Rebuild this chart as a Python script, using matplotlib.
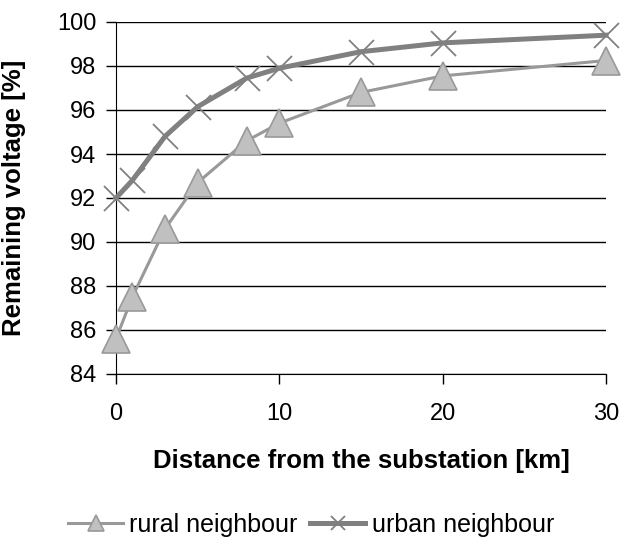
import matplotlib
matplotlib.use("Agg")
from matplotlib import pyplot as plt

plt.rcParams['font.family'] = ['Liberation Sans', 'DejaVu Sans']

# distance from substation [km]
distance = [0, 1, 3, 5, 8, 10, 15, 20, 30]
rural = [85.6, 87.5, 90.6, 92.7, 94.6, 95.4, 96.8, 97.55, 98.25]
urban = [92.0, 92.8, 94.8, 96.15, 97.45, 97.9, 98.65, 99.05, 99.4]
yticks = [84, 86, 88, 90, 92, 94, 96, 98, 100]
xticks = [0, 10, 20, 30]

fig = plt.figure(figsize=(6.22, 5.40), dpi=100)
ax = fig.add_axes([116/622, 1 - 374/540, 490/622, 352/540])

ax.plot(distance, rural, color='#999999', lw=2.2, marker='^', markersize=20,
        markerfacecolor='#c0c0c0', markeredgecolor='#999999', markeredgewidth=1.2,
        label='rural neighbour', clip_on=False, zorder=3)
ax.plot(distance, urban, color='#808080', lw=3.6, marker='x', markersize=18,
        markeredgecolor='#808080', markeredgewidth=1.3,
        label='urban neighbour', clip_on=False, zorder=4)

ax.set_xlim(0, 30)
ax.set_ylim(84, 100)
ax.set_xticks(xticks)
ax.set_yticks(yticks)
ax.yaxis.grid(True, color='black', lw=1)
ax.set_axisbelow(True)
for s in ['top', 'right']:
    ax.spines[s].set_visible(False)
ax.spines['left'].set_color('black')
ax.spines['bottom'].set_color('black')
ax.tick_params(axis='both', direction='out', length=7, width=1, labelsize=17)
ax.tick_params(axis='x', pad=14)
ax.tick_params(axis='y', pad=7)

ax.set_xlabel('Distance from the substation [km]', fontsize=18.5, fontweight='bold')
ax.xaxis.set_label_coords(0.5, -(449 - 374) / 352)
ax.set_ylabel('Remaining voltage [%]', fontsize=18.5, fontweight='bold')
ax.yaxis.set_label_coords(-(116 - 26) / 490, 0.5)

fig.legend(loc='center', bbox_to_anchor=(0.5, 1 - 525/540), ncol=2, frameon=False,
           fontsize=18, handlelength=2.2, handletextpad=0.25, columnspacing=0.5,
           markerscale=0.55, borderpad=0)

fig.savefig('out.png', dpi=100)
